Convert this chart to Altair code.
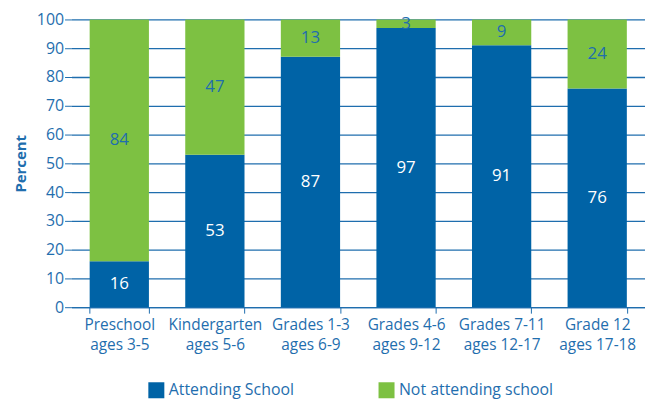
import altair as alt
import pandas as pd

categories = ["Preschool|ages 3-5", "Kindergarten|ages 5-6", "Grades 1-3|ages 6-9",
              "Grades 4-6|ages 9-12", "Grades 7-11|ages 12-17", "Grade 12|ages 17-18"]
attending = [16, 53, 87, 97, 91, 76]
not_attending = [84, 47, 13, 3, 9, 24]
series = ["Attending School", "Not attending school"]
colors = ["#0063a6", "#7dc142"]

rows = []
for c, a, n in zip(categories, attending, not_attending):
    rows.append({"cat": c, "series": series[0], "val": a, "lo": 0, "hi": a, "mid": a / 2})
    rows.append({"cat": c, "series": series[1], "val": n, "lo": a, "hi": a + n, "mid": a + n / 2})
df = pd.DataFrame(rows)

BLUE = "#1f6eae"
FONT = "Open Sans"

x = alt.X("cat:N", sort=categories, title=None,
          scale=alt.Scale(paddingInner=0.38, paddingOuter=0.19),
          axis=alt.Axis(labelExpr="split(datum.label, '|')", labelAngle=0,
                        labelFontSize=15.5, labelColor=BLUE, labelFont=FONT,
                        tickBand="extent", tickColor=BLUE, tickSize=6,
                        domainColor=BLUE, domainWidth=1.2, labelPadding=4,
                        labelLineHeight=21, grid=False))

yscale = alt.Scale(domain=[0, 100])
yaxis = alt.Axis(values=list(range(0, 101, 10)), labelFontSize=16,
                 labelColor=BLUE, labelFont=FONT, titleFont=FONT,
                 titleFontSize=15, titleFontWeight="bold", titleColor=BLUE,
                 titlePadding=8, domain=False, tickColor=BLUE, tickSize=7,
                 gridColor=BLUE, gridWidth=1.3, grid=True, labelPadding=1)

bars = alt.Chart(df).mark_bar().encode(
    x=x,
    y=alt.Y("lo:Q", scale=yscale, title="Percent", axis=yaxis),
    y2="hi:Q",
    color=alt.Color("series:N", scale=alt.Scale(domain=series, range=colors),
                    legend=alt.Legend(title=None, orient="none", legendX=77, legendY=365,
                                      direction="horizontal", symbolType="square",
                                      symbolSize=260, symbolStrokeWidth=0,
                                      labelFontSize=16, labelColor=BLUE, labelFont=FONT,
                                      columnPadding=84, symbolOpacity=1)),
)

txt_a = alt.Chart(df).transform_filter(alt.datum.series == series[0]).mark_text(
    fontSize=17, font=FONT, color="white", baseline="middle").encode(
    x=alt.X("cat:N", sort=categories),
    y=alt.Y("mid:Q", scale=yscale, title="Percent", axis=yaxis), text="val:Q")
txt_n = alt.Chart(df).transform_filter(alt.datum.series == series[1]).mark_text(
    fontSize=17, font=FONT, color=BLUE, baseline="middle").encode(
    x=alt.X("cat:N", sort=categories),
    y=alt.Y("mid:Q", scale=yscale, title="Percent", axis=yaxis), text="val:Q")

chart = alt.layer(bars, txt_a, txt_n).properties(
    width=578, height=290,
    autosize=alt.AutoSizeParams(type="none"),
    padding={"left": 64, "top": 10, "right": 0, "bottom": 94},
).configure_view(stroke=None).configure_axis(gridOpacity=1)

chart.save("out.html", embed_options={"renderer": "svg", "actions": False})
